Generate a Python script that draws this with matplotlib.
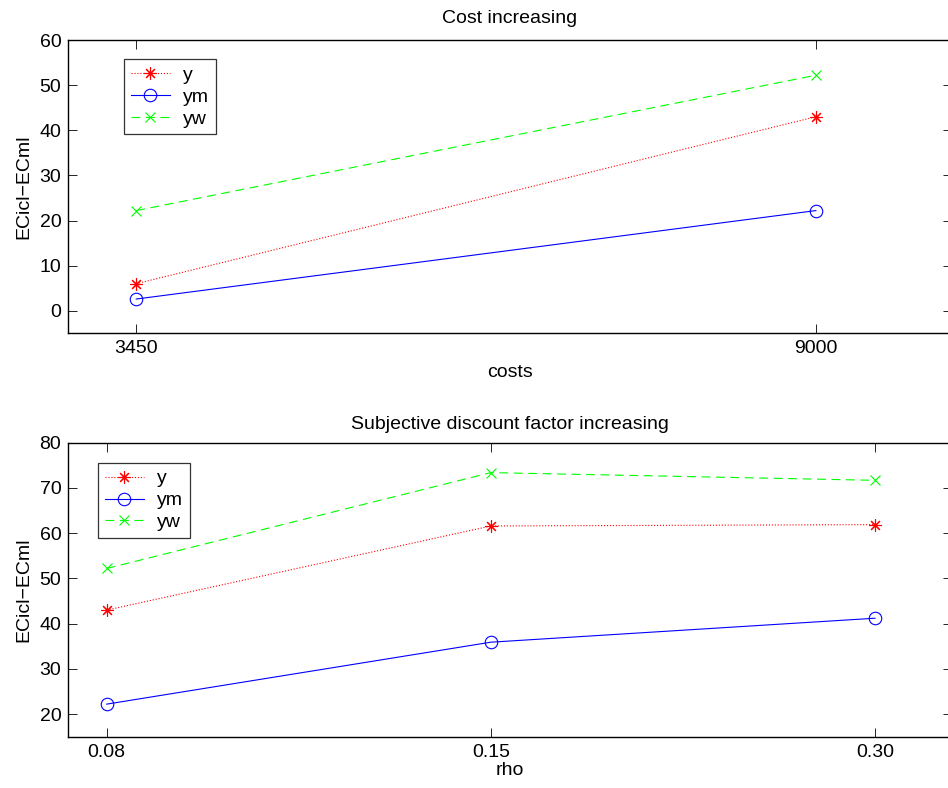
import numpy as np
import matplotlib
matplotlib.use('Agg')
import matplotlib.pyplot as plt

plt.rcParams['font.family'] = ['Liberation Sans', 'DejaVu Sans']

# top panel: cost increasing
cost_labels = ['3450', '9000']
cost_y = [6.0, 43.0]
cost_ym = [2.6, 22.2]
cost_yw = [22.2, 52.2]

# bottom panel: subjective discount factor increasing
rho_labels = ['0.08', '0.15', '0.30']
rho_y = [43.0, 61.6, 61.9]
rho_ym = [22.2, 35.9, 41.2]
rho_yw = [52.2, 73.4, 71.7]

fs = 14
fig = plt.figure(figsize=(9.48, 7.88), dpi=100)
ax1 = fig.add_axes([0.072, 0.577, 0.932, 0.3722])
ax2 = fig.add_axes([0.072, 0.0651, 0.932, 0.373])


def draw(ax, labels, y, ym, yw, ylim, xlim, title, xlabel, yticks, leg_anchor, xpad, tpad):
    x = np.arange(1, len(labels) + 1)
    ax.plot(x, y, color=(1, 0, 0), ls=':', lw=0.8, marker=(8, 2, 0), ms=9, mew=0.8, label='y')
    ax.plot(x, ym, color=(0, 0, 1), ls='-', lw=0.8, marker='o', ms=9, mfc='none', mew=0.8, label='ym')
    ax.plot(x, yw, color=(0, 1, 0), ls=(0, (8, 5)), lw=0.8, marker='x', ms=7.5, mew=0.8, label='yw')
    ax.set_xlim(xlim)
    ax.set_ylim(ylim)
    ax.set_xticks(x)
    ax.set_xticklabels(labels)
    ax.set_yticks(yticks)
    ax.tick_params(direction='in', top=True, right=True, length=6.5, width=0.6,
                   labelsize=fs, pad=5)
    for s in ax.spines.values():
        s.set_linewidth(1.0)
    ax.set_title(title, fontsize=fs, pad=tpad)
    ax.set_xlabel(xlabel, fontsize=fs, labelpad=xpad)
    ax.set_ylabel('ECicl\u2212ECml', fontsize=fs, labelpad=5)
    leg = ax.legend(loc='upper left', bbox_to_anchor=leg_anchor, fontsize=fs,
                    frameon=True, fancybox=False, edgecolor='black',
                    handlelength=2.0, borderpad=0.35, labelspacing=0.22,
                    handletextpad=0.7, borderaxespad=0)
    leg.get_frame().set_linewidth(0.9)


draw(ax1, cost_labels, cost_y, cost_ym, cost_yw, (-5, 60), (0.9, 2.2),
     'Cost increasing', 'costs', np.arange(0, 61, 10), (0.063, 0.934), 5, 12)
draw(ax2, rho_labels, rho_y, rho_ym, rho_yw, (15, 80), (0.9, 3.2),
     'Subjective discount factor increasing', 'rho', np.arange(20, 81, 10), (0.0336, 0.931), 1, 10)

fig.savefig('out.png', dpi=100)
